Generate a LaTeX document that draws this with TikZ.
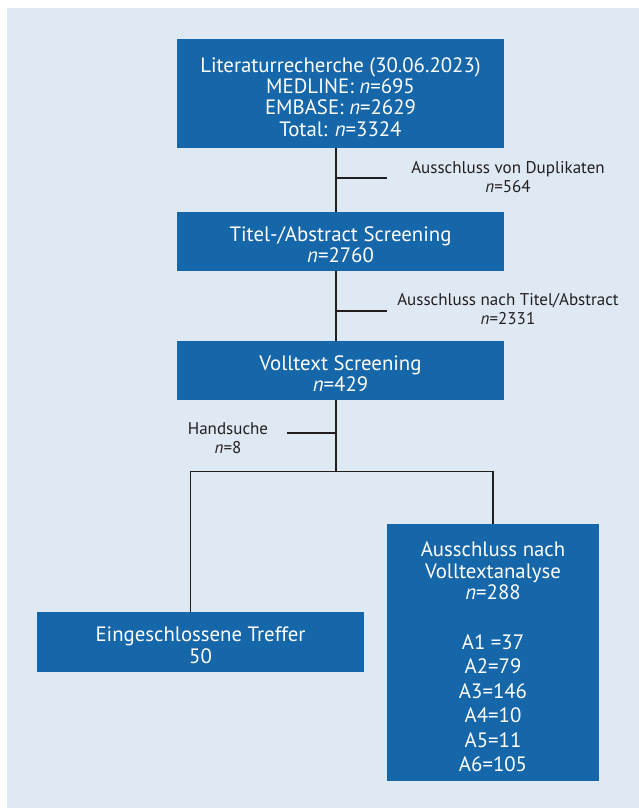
\documentclass[tikz,border=0pt]{standalone}
\usepackage{fontspec}
\setmainfont{PT Sans}
\usetikzlibrary{calc}
\definecolor{boxblue}{RGB}{22,102,170}
\definecolor{bgblue}{RGB}{223,233,244}
\definecolor{linegray}{RGB}{35,31,32}
\newcommand{\boxstrut}{\rule{0pt}{21.5pt}}

\begin{document}
\begin{tikzpicture}[x=1pt,y=-1pt,
        box/.style={fill=boxblue, text=white, align=center, inner sep=0pt, minimum width=327pt, font=\fontsize{20.8}{21.3}\selectfont},
        note/.style={align=center, text=linegray, inner sep=0pt, font=\fontsize{17}{19.5}\selectfont},
        link/.style={draw=linegray, line width=1.7pt}]
        \useasboundingbox (0,0) rectangle (639,808);
        \fill[bgblue] (7,8) rectangle (639,808);
        % boxes
        \node[box, minimum height=109pt] (lit) at (340.5,93.5) {\boxstrut Literaturrecherche (30.06.2023)\\MEDLINE: \textit{n}=695\\EMBASE: \textit{n}=2629\\Total: \textit{n}=3324};
        \node[box, minimum height=59pt] (tiab) at (340.5,241.5) {\boxstrut Titel-/Abstract Screening\\\textit{n}=2760};
        \node[box, minimum height=59pt] (volltext) at (340.5,370.5) {\boxstrut Volltext Screening\\\textit{n}=429};
        \node[box, minimum height=60pt] (incl) at (200.5,642) {\boxstrut Eingeschlossene Treffer\\50};
        \node[box, minimum width=212pt, minimum height=257pt] (excl) at (493,652.5) {};
        \node[box, fill=none, minimum width=0pt] (excltxt) at (493,668.5) {Ausschluss nach\\Volltextanalyse\\\textit{n}=288\\[28.4pt]A1 =37\\[3.2pt]A2=79\\[3.2pt]A3=146\\[3.2pt]A4=10\\[3.2pt]A5=11\\[3.2pt]A6=105\\[2pt]};
        % spine
        \draw[link] ([xshift=-4.5pt]lit.south) -- ([xshift=-4.5pt]tiab.north);
        \draw[link] ([xshift=-4.5pt]tiab.south) -- ([xshift=-4.5pt]volltext.north);
        \coordinate (split) at (336,471.5);
        \draw[link] ([xshift=-4.5pt]volltext.south) -- (split);
        \draw[link] (split) -| ([xshift=-10pt]incl.north);
        \draw[link] (split) -| (excl.north);
        % side branches
        \coordinate (dupA) at (336,178);
        \coordinate (dupB) at (387,178);
        \draw[link] (dupA) -- (dupB);
        \node[note] (dup) at (508,177) {Ausschluss von Duplikaten\\\textit{n}=564};
        \coordinate (titA) at (336,311);
        \coordinate (titB) at (387,311);
        \draw[link] (titA) -- (titB);
        \node[note] (tit) at (508,309) {Ausschluss nach Titel/Abstract\\\textit{n}=2331};
        \coordinate (handA) at (336,433);
        \coordinate (handB) at (287,433);
        \draw[link] (handA) -- (handB);
        \node[note] (hand) at (228,438) {Handsuche\\\textit{n}=8};
\end{tikzpicture}
\end{document}
